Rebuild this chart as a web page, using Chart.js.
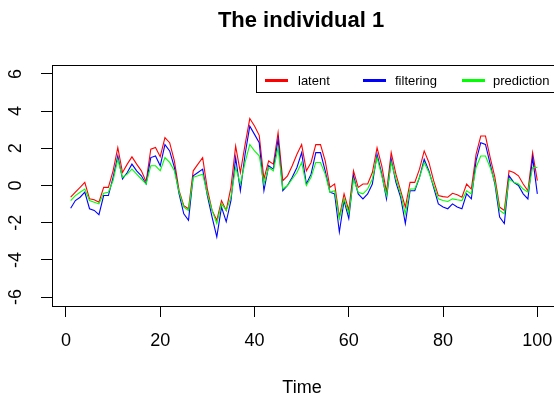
<!DOCTYPE html>
<html>
<head>
<meta charset="utf-8">
<script src="https://cdn.jsdelivr.net/npm/chart.js@4.4.1/dist/chart.umd.min.js"></script>
<style>
  html, body { margin: 0; padding: 0; background: #fff; overflow: hidden; }
  canvas { display: block; }
</style>
</head>
<body>
<canvas id="plot" width="556" height="403"></canvas>
<script>
// series, time = 1..100
const latent = [
  -0.63, -0.36, -0.10, 0.17, -0.72, -0.77, -0.90, -0.10, -0.10, 0.79,
  2.04, 0.70, 1.15, 1.54, 1.15, 0.79, 0.20, 1.95, 2.05, 1.55,
  2.57, 2.30, 1.32, -0.28, -1.08, -1.25, 0.79, 1.15, 1.50, -0.19,
  -1.34, -1.87, -0.81, -1.34, -0.10, 2.12, 0.70, 2.20, 3.60, 3.20,
  2.70, 0.35, 1.32, 1.15, 2.84, 0.26, 0.52, 1.06, 1.68, 2.20,
  0.79, 1.24, 2.20, 2.20, 1.32, -0.10, 0.08, -1.70, -0.45, -1.34,
  0.79, -0.10, 0.08, 0.08, 0.70, 2.03, 1.06, -0.36, 1.77, 0.61,
  -0.28, -1.16, 0.17, 0.17, 0.88, 1.86, 1.24, 0.26, -0.54, -0.60,
  -0.63, -0.42, -0.50, -0.63, 0.08, -0.19, 1.68, 2.66, 2.66, 1.50,
  0.44, -1.16, -1.34, 0.79, 0.70, 0.52, 0.08, -0.28, 1.77, 0.26
];
const filtering = [
  -1.22, -0.81, -0.63, -0.36, -1.25, -1.34, -1.57, -0.54, -0.54, 0.44,
  1.59, 0.35, 0.70, 1.15, 0.79, 0.52, 0.08, 1.50, 1.59, 1.06,
  2.20, 1.86, 0.97, -0.45, -1.52, -1.87, 0.52, 0.70, 0.88, -0.54,
  -1.70, -2.76, -1.16, -1.95, -0.81, 1.50, -0.28, 1.68, 3.19, 2.75,
  2.30, -0.28, 1.06, 0.88, 2.48, -0.28, 0.00, 0.44, 0.97, 1.77,
  0.08, 0.61, 1.77, 1.77, 0.79, -0.36, -0.45, -2.50, -0.81, -1.77,
  0.52, -0.45, -0.72, -0.45, 0.08, 1.68, 0.61, -0.72, 1.41, 0.17,
  -0.63, -2.05, -0.28, -0.28, 0.44, 1.41, 0.79, -0.10, -0.99, -1.16,
  -1.25, -0.99, -1.16, -1.25, -0.45, -0.72, 1.32, 2.30, 2.21, 1.15,
  0.08, -1.70, -2.05, 0.52, 0.17, 0.00, -0.45, -0.72, 1.50, -0.45
];
const prediction = [
  -0.81, -0.54, -0.36, -0.19, -0.81, -0.90, -0.99, -0.41, -0.36, 0.26,
  1.41, 0.44, 0.61, 0.88, 0.61, 0.35, 0.08, 1.06, 1.06, 0.79,
  1.50, 1.24, 0.79, -0.36, -1.16, -1.34, 0.44, 0.52, 0.61, -0.45,
  -1.34, -2.05, -0.99, -1.34, -0.63, 0.97, 0.08, 1.24, 2.21, 1.86,
  1.60, 0.08, 0.97, 0.79, 2.03, -0.19, 0.00, 0.35, 0.70, 1.24,
  0.00, 0.44, 1.24, 1.24, 0.61, -0.36, -0.28, -1.77, -0.72, -1.52,
  0.35, -0.36, -0.45, -0.19, 0.35, 1.50, 0.52, -0.54, 1.24, 0.35,
  -0.45, -1.52, -0.19, -0.19, 0.44, 1.24, 0.70, 0.00, -0.72, -0.81,
  -0.86, -0.72, -0.77, -0.81, -0.28, -0.45, 0.97, 1.59, 1.59, 0.97,
  0.17, -1.34, -1.52, 0.35, 0.17, 0.08, -0.19, -0.36, 0.97, 0.97
];
const time = latent.map((v, i) => i + 1);
const xTicks = [0, 20, 40, 60, 80, 100];
const yTicks = [-6, -4, -2, 0, 2, 4, 6];
const seriesNames = ['latent', 'filtering', 'prediction'];
const seriesColors = ['#ff0000', '#0000ff', '#00ff00'];

const FONT = '"Liberation Sans", Arial, Helvetica, sans-serif';

function points(arr) {
  return arr.map((v, i) => ({ x: time[i], y: v }));
}

// R-style frame, text, rotated y labels and the boxed legend
const rDecor = {
  id: 'rDecor',
  afterDraw(chart) {
    const ctx = chart.ctx;
    const a = chart.chartArea;
    const xs = chart.scales.x, ys = chart.scales.y;
    ctx.save();
    ctx.strokeStyle = '#000';
    ctx.lineWidth = 1;
    ctx.strokeRect(Math.round(a.left) + 0.5, Math.round(a.top) + 0.5,
      Math.round(a.right - a.left) - 1, Math.round(a.bottom - a.top));

    ctx.fillStyle = '#000';
    ctx.font = 'bold 22px ' + FONT;
    ctx.textAlign = 'center';
    ctx.textBaseline = 'middle';
    ctx.fillText('The individual 1', 301, 21);

    ctx.font = '18px ' + FONT;
    xTicks.forEach(t => {
      ctx.fillText(String(t), xs.getPixelForValue(t), 341);
    });
    ctx.fillText('Time', 302, 388);

    yTicks.forEach(t => {
      ctx.save();
      ctx.translate(16, ys.getPixelForValue(t));
      ctx.rotate(-Math.PI / 2);
      ctx.fillText(String(t), 0, 0);
      ctx.restore();
    });

    // legend, top-right inside the plot
    const lx = 256, ly = Math.round(a.top), lw = Math.round(a.right) - 256, lh = 27;
    ctx.fillStyle = '#fff';
    ctx.fillRect(lx, ly, lw, lh);
    ctx.strokeRect(lx + 0.5, ly + 0.5, lw - 1, lh);
    const items = [[265, 298], [363, 395], [462, 493]];
    ctx.font = '13px ' + FONT;
    ctx.textAlign = 'left';
    items.forEach((it, k) => {
      ctx.strokeStyle = seriesColors[k];
      ctx.lineWidth = 3;
      ctx.beginPath();
      ctx.moveTo(it[0], ly + 15.5);
      ctx.lineTo(it[0] + 23, ly + 15.5);
      ctx.stroke();
      ctx.fillStyle = '#000';
      ctx.fillText(seriesNames[k], it[1], ly + 16);
    });
    ctx.restore();
  }
};

new Chart(document.getElementById('plot'), {
  type: 'line',
  data: {
    datasets: [latent, filtering, prediction].map((arr, k) => ({
      label: seriesNames[k],
      data: points(arr),
      borderColor: seriesColors[k],
      borderWidth: 1.1,
      pointRadius: 0,
      tension: 0,
      fill: false,
      order: 3 - k
    }))
  },
  options: {
    responsive: false,
    animation: false,
    layout: { padding: { top: 65, right: 0, left: 0, bottom: 0 } },
    plugins: {
      legend: { display: false },
      title: { display: false },
      tooltip: { enabled: false }
    },
    scales: {
      x: {
        type: 'linear',
        min: -2.96,
        max: 103.96,
        afterBuildTicks: s => { s.ticks = xTicks.map(v => ({ value: v })); },
        afterFit: s => { s.height = 97; },
        ticks: { display: false },
        border: { display: false },
        grid: { drawOnChartArea: false, drawTicks: true, tickLength: 11, color: '#000' }
      },
      y: {
        min: -6.48,
        max: 6.48,
        afterBuildTicks: s => { s.ticks = yTicks.map(v => ({ value: v })); },
        afterFit: s => { s.width = 52; },
        ticks: { display: false },
        border: { display: false },
        grid: { drawOnChartArea: false, drawTicks: true, tickLength: 11, color: '#000' }
      }
    }
  },
  plugins: [rDecor]
});
</script>
</body>
</html>
